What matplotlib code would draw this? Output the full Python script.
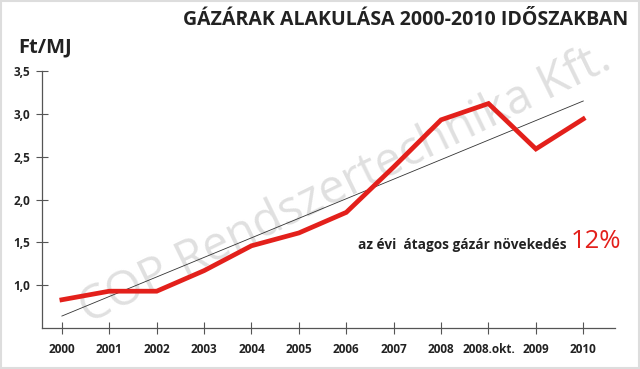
import matplotlib
matplotlib.use("Agg")
import matplotlib.pyplot as plt
import numpy as np

categories = ["2000", "2001", "2002", "2003", "2004", "2005", "2006", "2007",
              "2008", "2008.okt.", "2009", "2010"]
prices = [0.83, 0.93, 0.93, 1.17, 1.46, 1.61, 1.85, 2.38, 2.93, 3.12, 2.59, 2.94]
trend_start, trend_end = 0.64, 3.15
yticks = [1.0, 1.5, 2.0, 2.5, 3.0, 3.5]
ytick_labels = ["1,0", "1,5", "2,0", "2,5", "3,0", "3,5"]

plt.rcParams['font.family'] = ['Open Sans', 'DejaVu Sans']

fig = plt.figure(figsize=(6.4, 3.69), dpi=100)
fig.patch.set_facecolor('white')
ax = fig.add_axes([0.0656, 0.111, 0.8954, 0.6966])

x = np.arange(len(categories))
ax.plot([x[0], x[-1]], [trend_start, trend_end], color='#333333', lw=0.6, zorder=2)
ax.plot(x, prices, color='#e3201b', lw=3.4, solid_joinstyle='miter', zorder=3)

ax.set_xlim(-0.42, 11.67)
ax.set_ylim(0.5, 3.5)
ax.set_xticks(x)
ax.set_xticklabels(categories, fontsize=8.5, fontweight='bold', color='#222222')
ax.set_yticks(yticks)
ax.set_yticklabels(ytick_labels, fontsize=8.5, fontweight='bold', color='#222222')
for s in ['top', 'right']:
    ax.spines[s].set_visible(False)
for s in ['left', 'bottom']:
    ax.spines[s].set_color('#555555')
    ax.spines[s].set_linewidth(0.9)
ax.tick_params(axis='both', direction='inout', length=9, width=0.8, color='#555555')
ax.tick_params(axis='x', pad=6)
ax.tick_params(axis='y', pad=4)

# watermark
ax.text(0.53, 0.56, "COP Rendszertechnika Kft.", transform=ax.transAxes,
        fontsize=34, color='#e0e0e0', rotation=26, ha='center', va='center',
        zorder=1)

fig.text(0.981, 0.945, "GÁZÁRAK ALAKULÁSA 2000-2010 IDŐSZAKBAN", ha='right',
         va='center', fontsize=14, fontweight='bold', color='#222222')
fig.text(0.028, 0.872, "Ft/MJ", ha='left', va='center', fontsize=14.5,
         fontweight='bold', color='#222222')
fig.text(0.886, 0.337, "az évi  átagos gázár növekedés", ha='right', va='center',
         fontsize=9.8, fontweight='bold', color='#222222')
fig.text(0.892, 0.345, "12%", ha='left', va='center', fontsize=18.5,
         color='#e3201b')

# light frame
fig.patches.append(plt.Rectangle((0.002, 0.003), 0.996, 0.994, transform=fig.transFigure,
                                 fill=False, edgecolor='#dddddd', lw=1.5))

fig.savefig("out.png", dpi=100, facecolor='white')
